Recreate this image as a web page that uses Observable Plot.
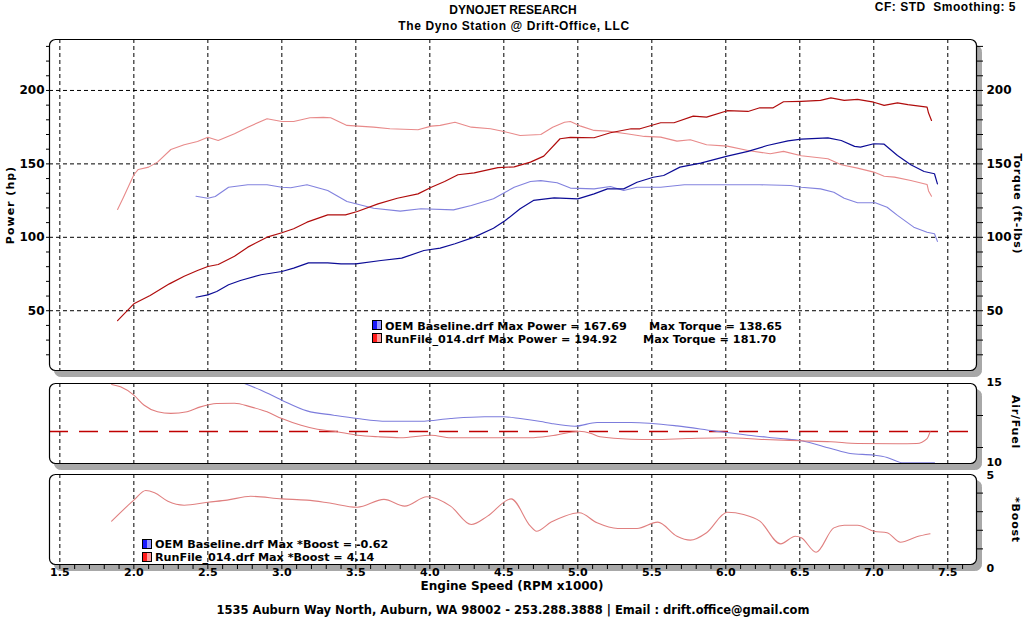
<!DOCTYPE html>
<html><head><meta charset="utf-8">
<script src="https://cdn.jsdelivr.net/npm/d3@7"></script>
<script src="https://cdn.jsdelivr.net/npm/@observablehq/plot@0.6"></script>
<style>
html,body{margin:0;padding:0;background:#fff;}
#chart{position:relative;width:1026px;height:618px;overflow:hidden;font-family:"DejaVu Sans",Verdana,sans-serif;font-weight:bold;color:#000;background:#fff;}
#chart svg{position:absolute;left:0;top:0;background:transparent;}
.t{position:absolute;white-space:pre;line-height:1;}
.c{transform:translate(-50%,-50%);}
.l{transform:translate(0,-50%);}
.r{transform:translate(-100%,-50%);}
.rl{transform:translate(-50%,-50%) rotate(-90deg);}
.rr{transform:translate(-50%,-50%) rotate(90deg);}
.hd{font-family:"Liberation Sans",Arial,sans-serif;font-size:12px;}
.sw{position:absolute;width:8px;height:8px;border:1px solid #000;}
</style></head><body><div id="chart"></div>
<script>
// ---------------- data ----------------
const rpmTicks = [1.5, 2.0, 2.5, 3.0, 3.5, 4.0, 4.5, 5.0, 5.5, 6.0, 6.5, 7.0, 7.5];
const powerTicks = [50, 100, 150, 200];
const torqueTicks = [50, 100, 150, 200];
const afrTicks = [10, 15];
const boostTicks = [0, 5];
const afrTarget = 12;

const seriesNames = ["OEM Baseline.drf", "RunFile_014.drf"];
const maxPower = ["167.69", "194.92"];
const maxTorque = ["138.65", "181.70"];
const maxBoost = ["-0.62", "4.14"];

const oemPowerRpm = [2.42,2.50,2.56,2.64,2.72,2.86,3.00,3.08,3.18,3.31,3.40,3.50,3.67,3.81,3.96,4.07,4.17,4.30,4.43,4.51,4.61,4.70,4.84,5.00,5.11,5.20,5.31,5.40,5.51,5.58,5.69,5.83,6.01,6.15,6.28,6.42,6.51,6.69,6.78,6.87,6.91,7.00,7.07,7.16,7.25,7.34,7.41,7.43];
const oemPowerHp = [59.2,60.8,63.1,67.7,70.6,74.5,76.7,79.0,82.6,82.6,81.9,81.9,84.2,85.8,91.0,92.6,95.6,100.1,106.2,111.4,119.4,125.1,126.9,126.2,129.6,133.0,133.0,137.5,140.9,142.1,147.8,150.5,155.3,158.5,162.5,165.7,166.8,167.7,165.9,161.9,161.4,163.7,163.4,155.7,149.4,144.8,143.3,136.4];

const oemTorqueRpm = [2.42,2.50,2.55,2.64,2.77,2.90,3.00,3.06,3.17,3.31,3.44,3.62,3.80,3.94,4.16,4.28,4.43,4.57,4.68,4.75,4.86,4.95,5.11,5.22,5.31,5.40,5.56,5.72,6.01,6.23,6.44,6.51,6.64,6.73,6.80,6.89,7.01,7.09,7.16,7.27,7.36,7.41,7.43];
const oemTorqueFtlb = [128.0,126.6,127.8,134.1,135.8,135.8,134.1,133.7,135.8,131.9,124.4,119.8,117.8,119.4,118.7,121.7,126.2,134.1,138.0,138.6,137.1,133.5,133.0,134.6,131.9,134.1,134.1,135.8,135.8,135.8,135.3,134.1,133.0,130.7,126.6,123.5,123.5,120.5,114.9,106.9,103.5,102.4,97.2];

const runPowerRpm = [1.89,2.00,2.11,2.24,2.34,2.43,2.50,2.57,2.68,2.77,2.90,3.00,3.08,3.17,3.31,3.43,3.51,3.65,3.78,3.92,4.01,4.10,4.19,4.30,4.46,4.57,4.68,4.77,4.88,4.95,5.11,5.22,5.36,5.42,5.56,5.65,5.78,5.87,6.01,6.15,6.23,6.32,6.39,6.51,6.64,6.71,6.80,6.89,7.00,7.07,7.16,7.23,7.36,7.37,7.39];
const runPowerHp = [43.3,54.7,60.4,68.3,73.5,77.4,80.1,81.5,87.1,93.3,100.1,103.1,105.8,110.3,115.3,115.3,117.6,122.8,126.6,129.6,134.1,138.0,142.6,143.9,147.5,148.0,151.2,155.3,167.1,168.0,167.8,171.2,173.9,173.9,178.0,178.0,182.5,181.8,186.2,185.7,188.2,188.2,192.3,192.6,193.2,194.9,193.2,193.9,192.0,189.8,191.6,190.3,188.6,184.6,179.6];

const runTorqueRpm = [1.89,1.93,2.00,2.03,2.10,2.16,2.25,2.34,2.43,2.50,2.57,2.68,2.77,2.90,3.00,3.08,3.19,3.28,3.33,3.44,3.62,3.73,3.92,4.01,4.07,4.17,4.28,4.41,4.50,4.61,4.75,4.83,4.91,4.95,5.02,5.11,5.20,5.33,5.45,5.56,5.67,5.76,5.87,6.01,6.15,6.30,6.39,6.51,6.69,6.78,6.89,7.00,7.07,7.14,7.25,7.36,7.37,7.39];
const runTorqueFtlb = [119.0,127.3,142.6,146.2,147.8,151.2,159.8,163.0,165.3,168.2,165.9,170.5,175.0,180.7,178.9,178.9,181.4,181.7,181.4,176.2,175.0,173.9,173.2,175.7,176.2,178.4,175.0,173.9,172.1,169.3,170.0,175.0,178.4,178.9,175.7,172.8,172.3,170.5,168.7,168.2,165.5,166.4,163.0,162.1,159.1,156.9,158.5,155.5,153.5,149.4,147.1,144.4,141.6,141.0,138.7,136.0,131.6,128.0];

const oemAfrRpm = [2.72,2.86,3.00,3.17,3.35,3.51,3.71,3.94,4.14,4.37,4.50,4.61,4.75,4.82,4.98,5.13,5.36,5.67,5.92,6.15,6.37,6.51,6.71,6.84,7.00,7.09,7.20,7.41];
const oemAfr = [15.10,14.58,13.96,13.29,13.02,12.81,12.64,12.64,12.81,12.92,12.92,12.81,12.62,12.50,12.33,12.56,12.56,12.35,12.04,11.77,11.56,11.42,10.94,10.63,10.52,10.38,10.04,10.04];

const runAfrRpm = [1.85,1.91,2.00,2.07,2.16,2.25,2.36,2.45,2.56,2.68,2.79,2.90,3.00,3.13,3.24,3.35,3.51,3.65,3.80,4.01,4.14,4.47,4.68,4.82,5.01,5.09,5.15,5.36,5.51,5.74,6.01,6.26,6.51,6.71,6.89,7.16,7.29,7.36,7.38];
const runAfr = [14.94,14.79,14.27,13.64,13.23,13.13,13.23,13.54,13.75,13.77,13.54,13.23,12.81,12.39,12.14,12.02,11.77,11.67,11.61,11.77,11.61,11.61,11.61,11.73,12.02,11.88,11.67,11.52,11.50,11.56,11.61,11.50,11.42,11.36,11.25,11.23,11.25,11.56,11.98];

const runBoostRpm = [1.85,2.00,2.08,2.14,2.23,2.34,2.50,2.63,2.79,3.00,3.17,3.31,3.51,3.69,3.83,3.98,4.14,4.28,4.39,4.55,4.68,4.72,4.82,4.91,5.01,5.13,5.27,5.40,5.54,5.67,5.76,5.87,6.01,6.12,6.23,6.37,6.47,6.51,6.61,6.73,6.80,6.89,7.00,7.09,7.18,7.29,7.38];
const runBoost = [2.49,3.62,4.14,4.02,3.56,3.35,3.51,3.62,3.83,3.69,3.62,3.48,3.24,3.66,3.30,3.80,3.30,2.31,2.76,3.69,2.22,1.95,2.44,2.76,2.94,2.40,2.10,2.10,2.44,1.68,1.47,1.87,2.97,2.85,2.49,1.27,1.68,1.60,0.82,2.13,2.27,2.27,1.95,1.87,1.36,1.65,1.81];

// ---------------- colours ----------------
const C = {
  oemPower: "#0c0c96", oemTorque: "#8282de",
  runPower: "#b00c0c", runTorque: "#e88a8a",
  oemAfr: "#7c7cdc", runAfr: "#e07c7c", runBoost: "#e08080",
  target: "#c00000", shadow: "#a8a8a8"
};

const rows = (xs, ys) => xs.map((x, i) => ({rpm: x, v: ys[i]}));
const W = 1026, H = 618;
const X_DOMAIN = [1.430, 7.694];
const minorRpm = d3.range(15, 77).map(d => d / 10);
const gridStyle = {stroke: "#000", strokeOpacity: 1, strokeDasharray: "4,3", strokeWidth: 1};
const baseStyle = {background: "transparent", fontFamily: "'DejaVu Sans', Verdana, sans-serif", fontWeight: "bold", fontSize: "11px", color: "black", overflow: "visible"};
const blank = () => "";

function panelFrame() {
  return [
    Plot.frame({fill: C.shadow, stroke: C.shadow, rx: 6, dx: 5, dy: 6}),
    Plot.frame({fill: "white", rx: 6})
  ];
}

// ---------------- main (power/torque) ----------------
const mainPlot = Plot.plot({
  width: W, height: H, marginLeft: 49, marginRight: W - 976, marginTop: 39, marginBottom: H - 370,
  style: baseStyle,
  x: {domain: X_DOMAIN, axis: null},
  y: {domain: [9.3, 234.7], axis: null},
  marks: [
    ...panelFrame(),
    Plot.gridX(rpmTicks, gridStyle),
    Plot.gridY(powerTicks, gridStyle),
    Plot.axisY(d3.range(20, 231, 10), {anchor: "left", tickSize: 3, tickFormat: blank, label: null}),
    Plot.axisY(powerTicks, {anchor: "left", tickSize: 0, tickPadding: 5, label: null, fontSize: 12}),
    Plot.axisY(d3.range(20, 231, 10), {anchor: "right", tickSize: 6, tickFormat: blank, label: null}),
    Plot.axisY(torqueTicks, {anchor: "right", tickSize: 0, tickPadding: 10, label: null, fontSize: 12}),
    Plot.line(rows(oemTorqueRpm, oemTorqueFtlb), {x: "rpm", y: "v", stroke: C.oemTorque, strokeWidth: 1.1}),
    Plot.line(rows(runTorqueRpm, runTorqueFtlb), {x: "rpm", y: "v", stroke: C.runTorque, strokeWidth: 1.1}),
    Plot.line(rows(oemPowerRpm, oemPowerHp), {x: "rpm", y: "v", stroke: C.oemPower, strokeWidth: 1.2}),
    Plot.line(rows(runPowerRpm, runPowerHp), {x: "rpm", y: "v", stroke: C.runPower, strokeWidth: 1.2}),
    Plot.frame({stroke: "#000", rx: 6, strokeWidth: 1.2})
  ]
});

// ---------------- air/fuel ----------------
const afrPlot = Plot.plot({
  width: W, height: H, marginLeft: 49, marginRight: W - 976, marginTop: 383, marginBottom: H - 463,
  style: baseStyle,
  x: {domain: X_DOMAIN, axis: null},
  y: {domain: [10, 15], axis: null},
  marks: [
    ...panelFrame(),
    Plot.gridX(rpmTicks, gridStyle),
    Plot.axisY([11, 13], {anchor: "right", tickSize: 6, tickFormat: blank, label: null}),
    Plot.axisY(afrTicks, {anchor: "right", tickSize: 0, tickPadding: 10, label: null, fontSize: 11, dy: -1}),
    Plot.ruleY([afrTarget], {stroke: C.target, strokeWidth: 1.3, strokeDasharray: "19,11"}),
    Plot.line(rows(oemAfrRpm, oemAfr), {x: "rpm", y: "v", stroke: C.oemAfr, strokeWidth: 1.1, curve: "monotone-x", clip: true}),
    Plot.line(rows(runAfrRpm, runAfr), {x: "rpm", y: "v", stroke: C.runAfr, strokeWidth: 1.1, curve: "monotone-x", clip: true}),
    Plot.frame({stroke: "#000", rx: 6, strokeWidth: 1.2})
  ]
});

// ---------------- boost ----------------
const boostPlot = Plot.plot({
  width: W, height: H, marginLeft: 49, marginRight: W - 976, marginTop: 474, marginBottom: H - 564,
  style: baseStyle,
  x: {domain: X_DOMAIN, axis: null},
  y: {domain: [0.16, 5.0], axis: null},
  marks: [
    ...panelFrame(),
    Plot.gridX(rpmTicks, gridStyle),
    Plot.axisY([1, 2, 3, 4], {anchor: "right", tickSize: 6, tickFormat: blank, label: null}),
    Plot.axisY(boostTicks, {anchor: "right", tickSize: 0, tickPadding: 10, label: null, fontSize: 11, dy: 1}),
    Plot.line(rows(runBoostRpm, runBoost), {x: "rpm", y: "v", stroke: C.runBoost, strokeWidth: 1.1, curve: "monotone-x", clip: true}),
    Plot.frame({stroke: "#000", rx: 6, strokeWidth: 1.2}),
    Plot.axisX(minorRpm, {anchor: "bottom", tickSize: 5, tickFormat: blank, label: null}),
    Plot.axisX(rpmTicks, {anchor: "bottom", tickSize: 0, tickPadding: 4, tickFormat: d3.format(".1f"), label: null, fontSize: 11})
  ]
});

const chart = document.getElementById("chart");
chart.append(mainPlot, afrPlot, boostPlot);

// ---------------- text ----------------
function txt(s, x, y, cls, extra = "") {
  const d = document.createElement("div");
  d.className = "t " + cls;
  d.style.cssText = `left:${x}px;top:${y}px;` + extra;
  d.textContent = s;
  chart.append(d);
  return d;
}
function swatch(x, y, dark, light) {
  const d = document.createElement("div");
  d.className = "sw";
  d.style.cssText = `left:${x}px;top:${y}px;background:linear-gradient(to right, ${dark} 50%, ${light} 50%);`;
  chart.append(d);
}

txt("DYNOJET RESEARCH", 513, 10, "c hd");
txt("The Dyno Station @ Drift-Office, LLC", 514, 26, "c hd", "letter-spacing:0.6px;");
txt("CF: STD  Smoothing: 5", 1016, 7, "r hd", "letter-spacing:0.5px;");
txt("Power (hp)", 10, 205, "rl", "font-size:11px;letter-spacing:1px;");
txt("Torque (ft-lbs)", 1017, 204, "rr", "font-size:11px;letter-spacing:0.8px;");
txt("Air/Fuel", 1015, 422, "rr", "font-size:11px;letter-spacing:0.8px;");
txt("*Boost", 1015, 520, "rr", "font-size:11px;letter-spacing:0.8px;");
txt("Engine Speed (RPM x1000)", 512, 586, "c", "font-size:12px;");
txt("1535 Auburn Way North, Auburn, WA 98002 - 253.288.3888 | Email : drift.office@gmail.com", 513, 611, "c", "font-size:11.5px;");

const legFont = "font-size:11.2px;";
swatch(372, 320, "#1a1aff", "#9a9aff");
swatch(372, 333, "#ff1a1a", "#ff9a9a");
txt(`${seriesNames[0]} Max Power = ${maxPower[0]}`, 385, 327, "l", legFont);
txt(`Max Torque = ${maxTorque[0]}`, 649, 327, "l", legFont);
txt(`${seriesNames[1]} Max Power = ${maxPower[1]}`, 385, 340, "l", legFont);
txt(`Max Torque = ${maxTorque[1]}`, 643, 340, "l", legFont);

swatch(142, 539, "#1a1aff", "#9a9aff");
swatch(142, 552, "#ff1a1a", "#ff9a9a");
txt(`${seriesNames[0]} Max *Boost = ${maxBoost[0]}`, 155, 545, "l", legFont);
txt(`${seriesNames[1]} Max *Boost = ${maxBoost[1]}`, 155, 558, "l", legFont);
</script>
</body></html>
